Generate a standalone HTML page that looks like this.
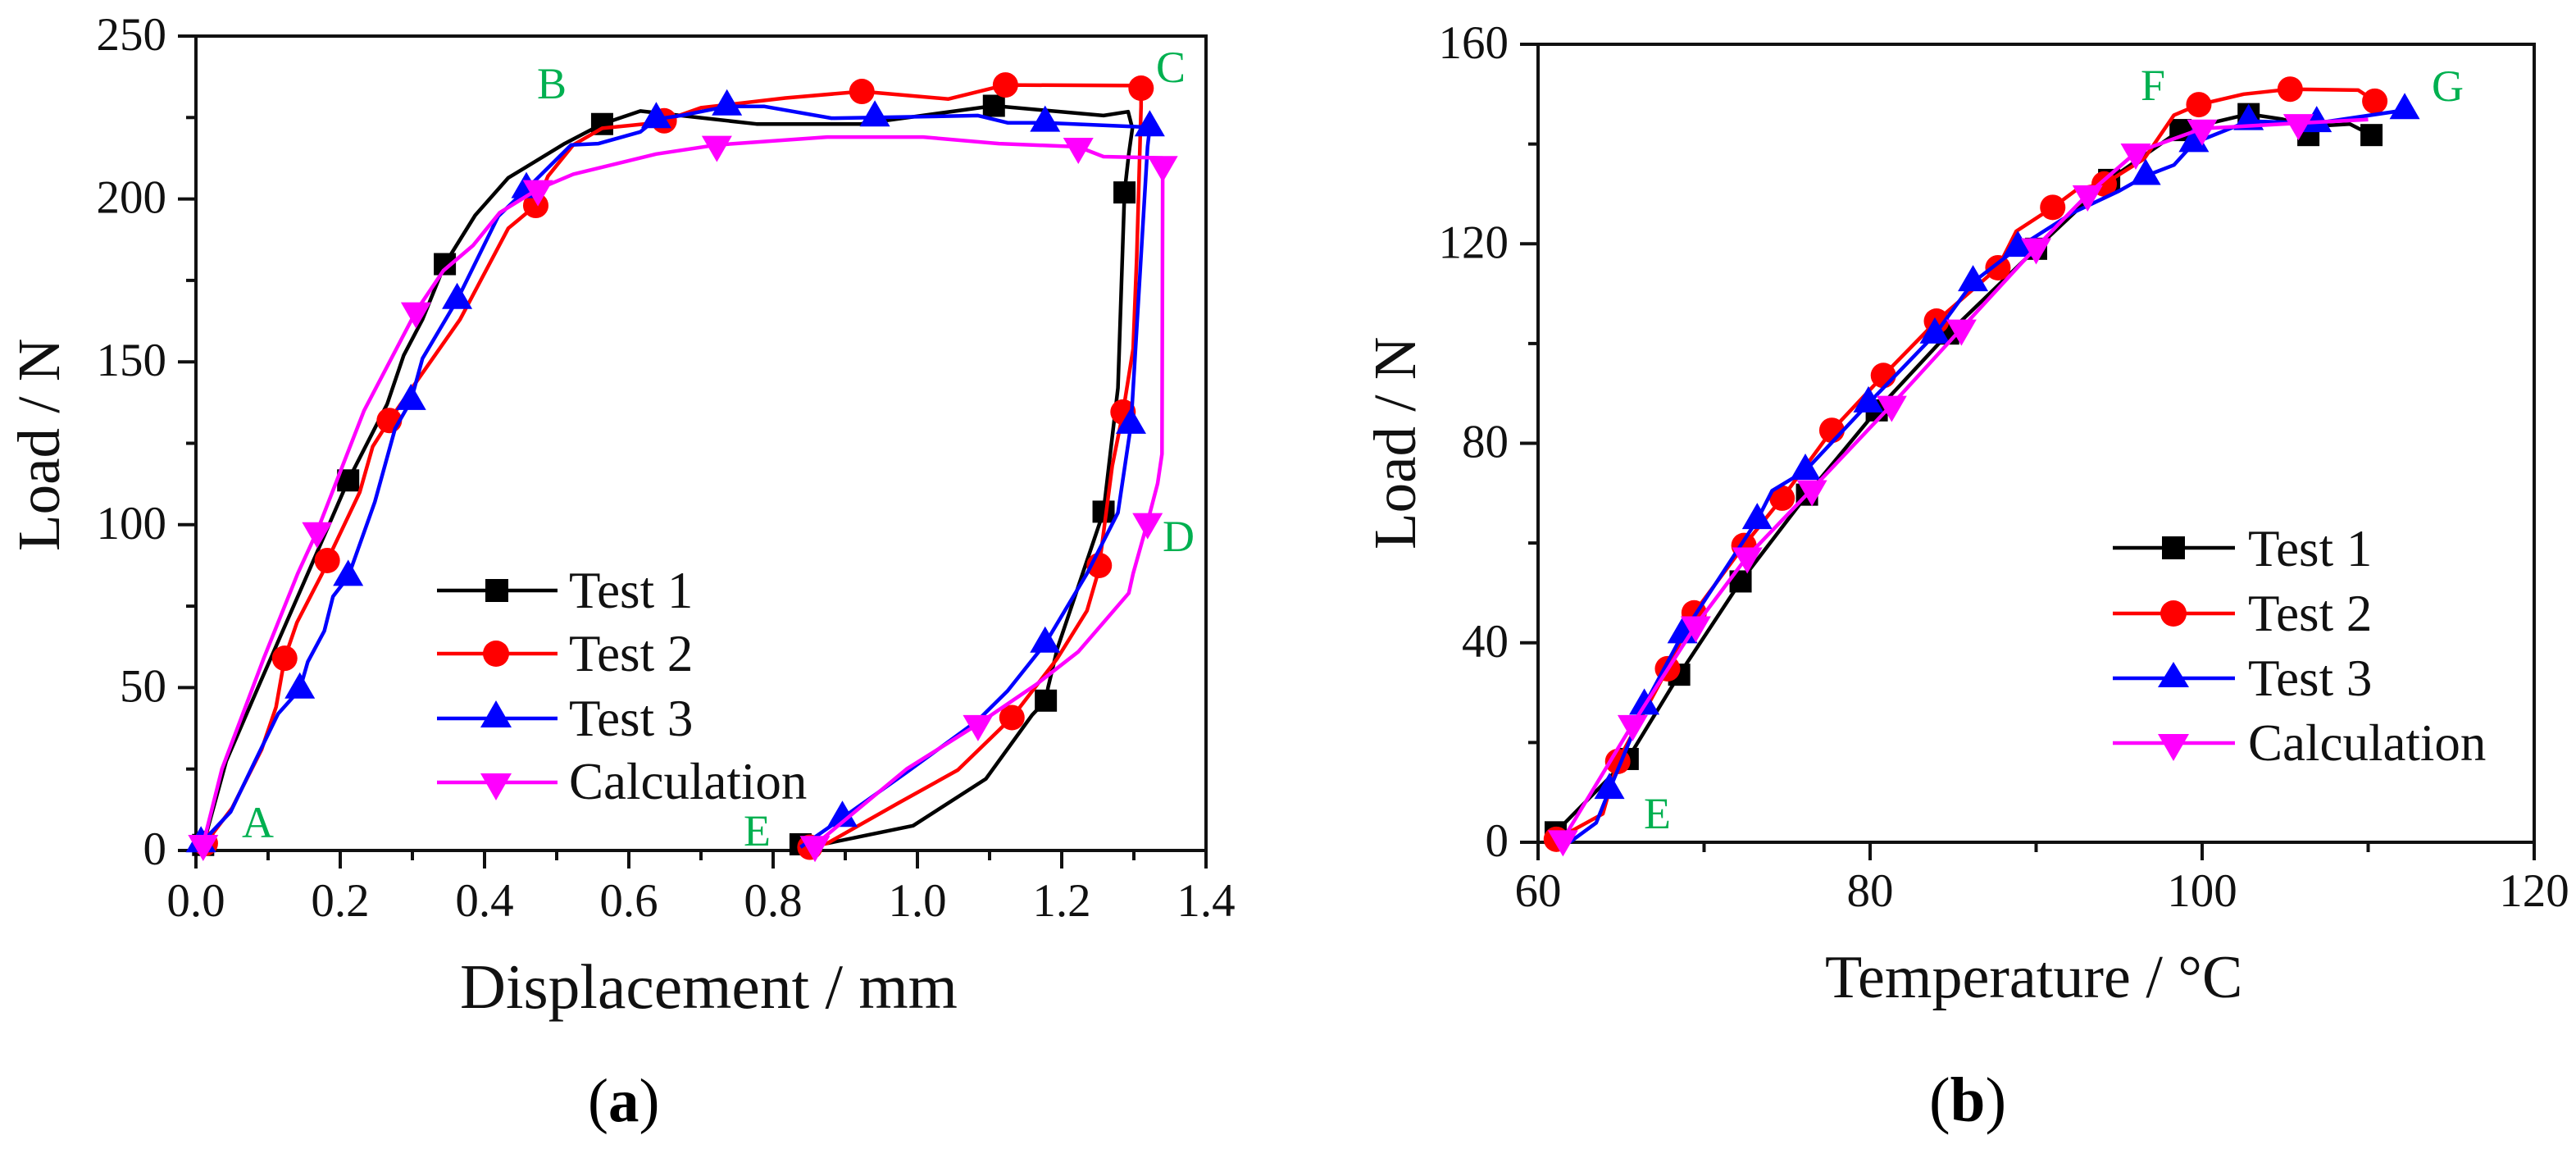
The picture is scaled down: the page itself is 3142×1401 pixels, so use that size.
<!DOCTYPE html>
<html lang="en">
<head>
<meta charset="utf-8">
<title>Load vs displacement and temperature</title>
<style>
html,body{margin:0;padding:0;background:#fff;}
svg{display:block;}
text{font-family:"Liberation Serif",serif;fill:#111;}
.tick{font-size:57px;}
.title{font-size:73px;}
.leg{font-size:63px;}
.pt{font-size:54px;fill:#00b050;}
.cap{font-size:75px;fill:#000;}
</style>
</head>
<body>
<svg id="fig" xmlns="http://www.w3.org/2000/svg" width="3142" height="1401" viewBox="0 0 3142 1401">
<rect x="0" y="0" width="3142" height="1401" fill="#fff"/>

<g id="panel-a">
  <g id="a-ticks"></g>
  <rect x="239" y="44" width="1232" height="993" fill="none" stroke="#111" stroke-width="4"/>
  <g id="a-test1"></g>
  <g id="a-test2"></g>
  <g id="a-test3"></g>
  <g id="a-calc"></g>
  <text class="title" transform="translate(72 672) rotate(-90)">Load / N</text>
  <text class="title" x="561" y="1229" style="font-size:77.5px">Displacement / mm</text>
  <text class="pt" x="295" y="1021">A</text>
  <text class="pt" x="655" y="120">B</text>
  <text class="pt" x="1410" y="100">C</text>
  <text class="pt" x="1418" y="672">D</text>
  <text class="pt" x="907" y="1031">E</text>
  <g>
    <g>
      <line x1="533" y1="720" x2="680" y2="720" stroke="#000" stroke-width="4.5"/>
      <rect x="592" y="706" width="28" height="28" fill="#000"/>
      <text class="leg" x="694" y="741">Test 1</text>
    </g>
    <g>
      <line x1="533" y1="797" x2="680" y2="797" stroke="#f00" stroke-width="4.5"/>
      <circle cx="605" cy="797" r="16" fill="#f00"/>
      <text class="leg" x="694" y="818">Test 2</text>
    </g>
    <g>
      <line x1="533" y1="876" x2="680" y2="876" stroke="#00f" stroke-width="4.5"/>
      <polygon points="605,854 624,887 586,887" fill="#00f"/>
      <text class="leg" x="694" y="897">Test 3</text>
    </g>
    <g>
      <line x1="533" y1="954" x2="680" y2="954" stroke="#f0f" stroke-width="4.5"/>
      <polygon points="605,976 624,943 586,943" fill="#f0f"/>
      <text class="leg" x="694" y="974">Calculation</text>
    </g>
  </g>
  <text class="cap" x="717" y="1367">(<tspan font-weight="bold">a</tspan>)</text>
</g>

<g id="panel-b">
  <g id="b-ticks"></g>
  <rect x="1876" y="54" width="1215" height="973" fill="none" stroke="#111" stroke-width="4"/>
  <g id="b-test1"></g>
  <g id="b-test2"></g>
  <g id="b-test3"></g>
  <g id="b-calc"></g>
  <text class="title" transform="translate(1726 670) rotate(-90)">Load / N</text>
  <text class="title" x="2226" y="1216" style="font-size:74px">Temperature / °C</text>
  <text class="pt" x="2005" y="1010">E</text>
  <text class="pt" x="2611" y="122">F</text>
  <text class="pt" x="2966" y="123">G</text>
  <g>
    <g>
      <line x1="2577" y1="668" x2="2726" y2="668" stroke="#000" stroke-width="4.5"/>
      <rect x="2637" y="654" width="28" height="28" fill="#000"/>
      <text class="leg" x="2742" y="690">Test 1</text>
    </g>
    <g>
      <line x1="2577" y1="748" x2="2726" y2="748" stroke="#f00" stroke-width="4.5"/>
      <circle cx="2651" cy="748" r="16" fill="#f00"/>
      <text class="leg" x="2742" y="769">Test 2</text>
    </g>
    <g>
      <line x1="2577" y1="827" x2="2726" y2="827" stroke="#00f" stroke-width="4.5"/>
      <polygon points="2651,807 2670,838 2632,838" fill="#00f"/>
      <text class="leg" x="2742" y="848">Test 3</text>
    </g>
    <g>
      <line x1="2577" y1="906" x2="2726" y2="906" stroke="#f0f" stroke-width="4.5"/>
      <polygon points="2651,928 2670,895 2632,895" fill="#f0f"/>
      <text class="leg" x="2742" y="927">Calculation</text>
    </g>
  </g>
  <text class="cap" x="2353" y="1367" style="font-size:77px">(<tspan font-weight="bold">b</tspan>)</text>
</g>
</svg>

<script>
// ---------- Panel (a): Load vs Displacement ----------
const aXTickValues = [0, 0.2, 0.4, 0.6, 0.8, 1.0, 1.2, 1.4];
const aXTickLabels = ["0.0", "0.2", "0.4", "0.6", "0.8", "1.0", "1.2", "1.4"];
const aXMinorValues = [0.1, 0.3, 0.5, 0.7, 0.9, 1.1, 1.3];
const aYTickValues = [0, 50, 100, 150, 200, 250];
const aYTickLabels = ["0", "50", "100", "150", "200", "250"];
const aYMinorValues = [25, 75, 125, 175, 225];

const aTest1LineX = [0.01, 0.013, 0.042, 0.088, 0.155, 0.211, 0.265, 0.288, 0.314, 0.345, 0.387, 0.433, 0.511, 0.563, 0.616, 0.672, 0.777, 0.921, 1.106, 1.258, 1.292, 1.298, 1.293, 1.287, 1.278, 1.258, 1.229, 1.194, 1.181, 1.178, 1.159, 1.095, 0.994, 0.875, 0.838];
const aTest1LineY = [1.7, 4, 27.5, 51, 85, 113.6, 137, 152, 163, 180, 195, 206.5, 217, 223, 227, 225.6, 223, 223, 228.6, 225.6, 226.8, 221.7, 213.8, 202, 142, 104, 85, 62, 50, 46, 41.6, 22, 7.6, 2.2, 1.9];
const aTest1MarkX = [0.01, 0.211, 0.345, 0.563, 1.106, 1.287, 1.258, 1.178, 0.838];
const aTest1MarkY = [1.7, 113.6, 180, 223, 228.6, 202, 104, 46, 1.9];

const aTest2LineX = [0.013, 0.05, 0.091, 0.111, 0.123, 0.14, 0.175, 0.182, 0.227, 0.245, 0.268, 0.366, 0.433, 0.471, 0.488, 0.523, 0.563, 0.621, 0.649, 0.7, 0.817, 0.923, 1.043, 1.122, 1.31, 1.31, 1.304, 1.299, 1.285, 1.27, 1.252, 1.25, 1.235, 1.194, 1.131, 1.056, 0.974, 0.875, 0.851];
const aTest2LineY = [2.2, 13, 31, 44, 59, 70, 85, 89, 110, 124, 132, 163, 191, 198, 207, 216.6, 221.7, 223, 224, 228, 231, 233, 230.7, 235, 234.8, 228.4, 182, 154, 134.6, 118, 87.5, 85, 73.6, 59, 40.8, 24.7, 14.6, 2.2, 1];
const aTest2MarkX = [0.013, 0.123, 0.182, 0.268, 0.471, 0.649, 0.923, 1.122, 1.31, 1.285, 1.252, 1.131, 0.851];
const aTest2MarkY = [2.2, 59, 89, 132, 198, 224, 233, 235, 234, 134.6, 87.5, 40.8, 1];

const aTest3LineX = [0.007, 0.048, 0.082, 0.114, 0.144, 0.155, 0.178, 0.19, 0.211, 0.248, 0.276, 0.298, 0.314, 0.362, 0.419, 0.458, 0.52, 0.558, 0.616, 0.638, 0.672, 0.736, 0.788, 0.881, 0.941, 1.084, 1.125, 1.177, 1.322, 1.319, 1.296, 1.278, 1.252, 1.235, 1.177, 1.125, 1.084, 0.985, 0.896, 0.838];
const aTest3LineY = [2.2, 11.8, 27.5, 42, 49.4, 57.9, 67.4, 78, 84, 107, 129.5, 138, 151, 169, 194.7, 203, 216.6, 217, 220.6, 224.5, 225.6, 228.4, 228.4, 224.8, 225, 225.6, 223.4, 223.4, 222, 216, 130.7, 103.7, 92.4, 85, 63.5, 49, 40, 24, 10, 1];
const aTest3MarkX = [0.007, 0.144, 0.211, 0.298, 0.362, 0.458, 0.638, 0.736, 0.941, 1.177, 1.322, 1.296, 1.177, 0.896];
const aTest3MarkY = [2.2, 49.4, 84, 138, 169, 203, 224.5, 228.4, 225, 223.4, 222, 130.7, 63.5, 10];

const aCalcLineX = [0.01, 0.036, 0.071, 0.094, 0.141, 0.168, 0.233, 0.305, 0.343, 0.384, 0.421, 0.474, 0.523, 0.638, 0.722, 0.875, 1.008, 1.113, 1.223, 1.258, 1.34, 1.339, 1.333, 1.319, 1.299, 1.293, 1.223, 1.165, 1.084, 0.985, 0.858];
const aCalcLineY = [2, 25, 45.5, 59, 85, 98, 135, 165.5, 178, 185.7, 195.8, 203, 207.6, 213.8, 216.6, 219, 219, 217, 216, 213, 212.6, 121.7, 112.7, 100.8, 85, 79, 61, 51, 38.8, 25, 1.7];
const aCalcMarkX = [0.01, 0.168, 0.305, 0.474, 0.722, 1.223, 1.34, 1.319, 1.084, 0.858];
const aCalcMarkY = [2, 98, 165.5, 203, 216.6, 216, 210.4, 100.8, 38.8, 1.7];

// ---------- Panel (b): Load vs Temperature ----------
const bXTickValues = [60, 80, 100, 120];
const bXTickLabels = ["60", "80", "100", "120"];
const bXMinorValues = [70, 90, 110];
const bYTickValues = [0, 40, 80, 120, 160];
const bYTickLabels = ["0", "40", "80", "120", "160"];
const bYMinorValues = [20, 60, 100, 140];

const bTest1LineX = [61.06, 65.4, 68.5, 72.2, 76.2, 80.4, 84.7, 90, 94.4, 98.7, 102.8, 104.8, 106.4, 108.9, 110.2];
const bTest1LineY = [2, 16.7, 33.6, 52.3, 69.7, 86.6, 102, 119, 132.8, 142.8, 146, 145, 143.5, 144, 141.8];
const bTest1MarkX = [61.06, 65.4, 68.5, 72.2, 76.2, 80.4, 84.7, 90, 94.4, 98.7, 102.8, 106.4, 110.2];
const bTest1MarkY = [2, 16.7, 33.6, 52.3, 69.7, 86.6, 102, 119, 132.8, 142.8, 146, 141.8, 141.8];

const bTest2LineX = [61.1, 63.9, 64.8, 67.8, 69.4, 72.4, 74.7, 77.7, 80.8, 84, 87.7, 88.8, 91, 92.5, 94.1, 96.5, 98.3, 99.8, 102.5, 105.3, 109.4, 110.4];
const bTest2LineY = [0.6, 5.7, 16.2, 34.8, 46, 59.5, 69, 82.6, 93.6, 104.5, 115.2, 122.5, 127.3, 131, 132, 137, 145.8, 147.9, 150, 151, 150.8, 148.6];
const bTest2MarkX = [61.1, 64.8, 67.8, 69.4, 72.4, 74.7, 77.7, 80.8, 84, 87.7, 91, 94.1, 99.8, 105.3, 110.4];
const bTest2MarkY = [0.6, 16.2, 34.8, 46, 59.5, 69, 82.6, 93.6, 104.5, 115.2, 127.3, 132, 147.9, 151, 148.6];

const bTest3LineX = [61.9, 63.5, 64.3, 66.4, 68.7, 73.2, 74.1, 76.1, 79.9, 83.9, 86.2, 88.9, 92.2, 95, 96.6, 98.3, 99.5, 102.8, 106.9, 112.2];
const bTest3LineY = [0, 3.9, 10.5, 27.4, 41.7, 64.6, 70.5, 74.5, 88, 101.8, 112.3, 119.2, 126.2, 130.6, 133.6, 135.8, 140.2, 144.6, 144.2, 146.8];
const bTest3MarkX = [64.3, 66.4, 68.7, 73.2, 76.1, 79.9, 83.9, 86.2, 88.9, 96.6, 99.5, 102.8, 106.9, 112.2];
const bTest3MarkY = [10.5, 27.4, 41.7, 64.6, 74.5, 88, 101.8, 112.3, 119.2, 133.6, 140.2, 144.6, 144.2, 146.8];

const bCalcLineX = [61.5, 65.7, 69.5, 72.6, 76.5, 81.3, 85.5, 90, 93.1, 96, 100, 105.8, 110];
const bCalcLineY = [0.6, 23.7, 43.5, 57.3, 70.8, 87.7, 103, 119.3, 129.9, 138.3, 143.1, 144.2, 144.9];
const bCalcMarkX = [61.5, 65.7, 69.5, 72.6, 76.5, 81.3, 85.5, 90, 93.1, 96, 100, 105.8];
const bCalcMarkY = [0.6, 23.7, 43.5, 57.3, 70.8, 87.7, 103, 119.3, 129.9, 138.3, 143.1, 144.2];

// ---------- Axis functions ----------
function aX(v) { return 239 + (v - 0) * 1232 / 1.4; }
function aY(v) { return 1037 - v * 993 / 250; }
function bX(v) { return 1876 + (v - 60) * 1215 / 60; }
function bY(v) { return 1027 - v * 973 / 160; }

const NS = "http://www.w3.org/2000/svg";

function drawLine(g, xs, ys, sx, sy, color) {
  const line = document.createElementNS(NS, "polyline");
  
  
  line.setAttribute("points", xs.map(function (x, i) { return sx(x).toFixed(1) + "," + sy(ys[i]).toFixed(1); }).join(" "));
  line.setAttribute("fill", "none");
  line.setAttribute("stroke", color);
  line.setAttribute("stroke-width", "4.5");
  line.setAttribute("stroke-linejoin", "round");
  g.appendChild(line);
}

function drawMarker(g, px, py, shape, color) {
  let m;
  if (shape === "square") {
    m = document.createElementNS(NS, "rect");
    m.setAttribute("x", px - 13.5);
    m.setAttribute("y", py - 13.5);
    m.setAttribute("width", 27);
    m.setAttribute("height", 27);
  } else if (shape === "circle") {
    m = document.createElementNS(NS, "circle");
    m.setAttribute("cx", px);
    m.setAttribute("cy", py);
    m.setAttribute("r", 15.5);
  } else if (shape === "up") {
    m = document.createElementNS(NS, "polygon");
    m.setAttribute("points", px + "," + (py - 21) + " " + (px + 18.5) + "," + (py + 11) + " " + (px - 18.5) + "," + (py + 11));
  } else {
    m = document.createElementNS(NS, "polygon");
    m.setAttribute("points", px + "," + (py + 21) + " " + (px + 18.5) + "," + (py - 11) + " " + (px - 18.5) + "," + (py - 11));
  }
  
  
  m.setAttribute("fill", color);
  g.appendChild(m);
}

function drawSeries(id, lx, ly, mx, my, sx, sy, shape, color) {
  const g = document.getElementById(id);
  drawLine(g, lx, ly, sx, sy, color);
  mx.forEach(function (x, i) { drawMarker(g, sx(x), sy(my[i]), shape, color); });
}

function tickMark(g, x1, y1, x2, y2) {
  const t = document.createElementNS(NS, "line");
  
  
  t.setAttribute("x1", x1);
  t.setAttribute("y1", y1);
  t.setAttribute("x2", x2);
  t.setAttribute("y2", y2);
  t.setAttribute("stroke", "#111");
  t.setAttribute("stroke-width", "4");
  g.appendChild(t);
}

function tickLabel(g, x, y, anchor, str) {
  const t = document.createElementNS(NS, "text");
  
  
  t.setAttribute("class", "tick");
  t.setAttribute("x", x);
  t.setAttribute("y", y);
  t.setAttribute("text-anchor", anchor);
  t.textContent = str;
  g.appendChild(t);
}

function drawAxes(id, sx, sy, xT, xL, xM, yT, yL, yM, baseX, baseY, xLabelBase, yLabelRight) {
  const g = document.getElementById(id);
  xT.forEach(function (v, i) {
    tickMark(g, sx(v), baseY, sx(v), baseY + 22);
    tickLabel(g, sx(v), xLabelBase, "middle", xL[i]);
  });
  xM.forEach(function (v) { tickMark(g, sx(v), baseY, sx(v), baseY + 12); });
  yT.forEach(function (v, i) {
    tickMark(g, baseX, sy(v), baseX - 22, sy(v));
    tickLabel(g, yLabelRight, sy(v) + 17, "end", yL[i]);
  });
  yM.forEach(function (v) { tickMark(g, baseX, sy(v), baseX - 12, sy(v)); });
}

drawAxes("a-ticks", aX, aY, aXTickValues, aXTickLabels, aXMinorValues, aYTickValues, aYTickLabels, aYMinorValues, 239, 1037, 1117, 203);
drawAxes("b-ticks", bX, bY, bXTickValues, bXTickLabels, bXMinorValues, bYTickValues, bYTickLabels, bYMinorValues, 1876, 1027, 1105, 1840);

drawSeries("a-test1", aTest1LineX, aTest1LineY, aTest1MarkX, aTest1MarkY, aX, aY, "square", "#000");
drawSeries("a-test2", aTest2LineX, aTest2LineY, aTest2MarkX, aTest2MarkY, aX, aY, "circle", "#f00");
drawSeries("a-test3", aTest3LineX, aTest3LineY, aTest3MarkX, aTest3MarkY, aX, aY, "up", "#00f");
drawSeries("a-calc", aCalcLineX, aCalcLineY, aCalcMarkX, aCalcMarkY, aX, aY, "down", "#f0f");

drawSeries("b-test1", bTest1LineX, bTest1LineY, bTest1MarkX, bTest1MarkY, bX, bY, "square", "#000");
drawSeries("b-test2", bTest2LineX, bTest2LineY, bTest2MarkX, bTest2MarkY, bX, bY, "circle", "#f00");
drawSeries("b-test3", bTest3LineX, bTest3LineY, bTest3MarkX, bTest3MarkY, bX, bY, "up", "#00f");
drawSeries("b-calc", bCalcLineX, bCalcLineY, bCalcMarkX, bCalcMarkY, bX, bY, "down", "#f0f");
</script>
</body>
</html>
